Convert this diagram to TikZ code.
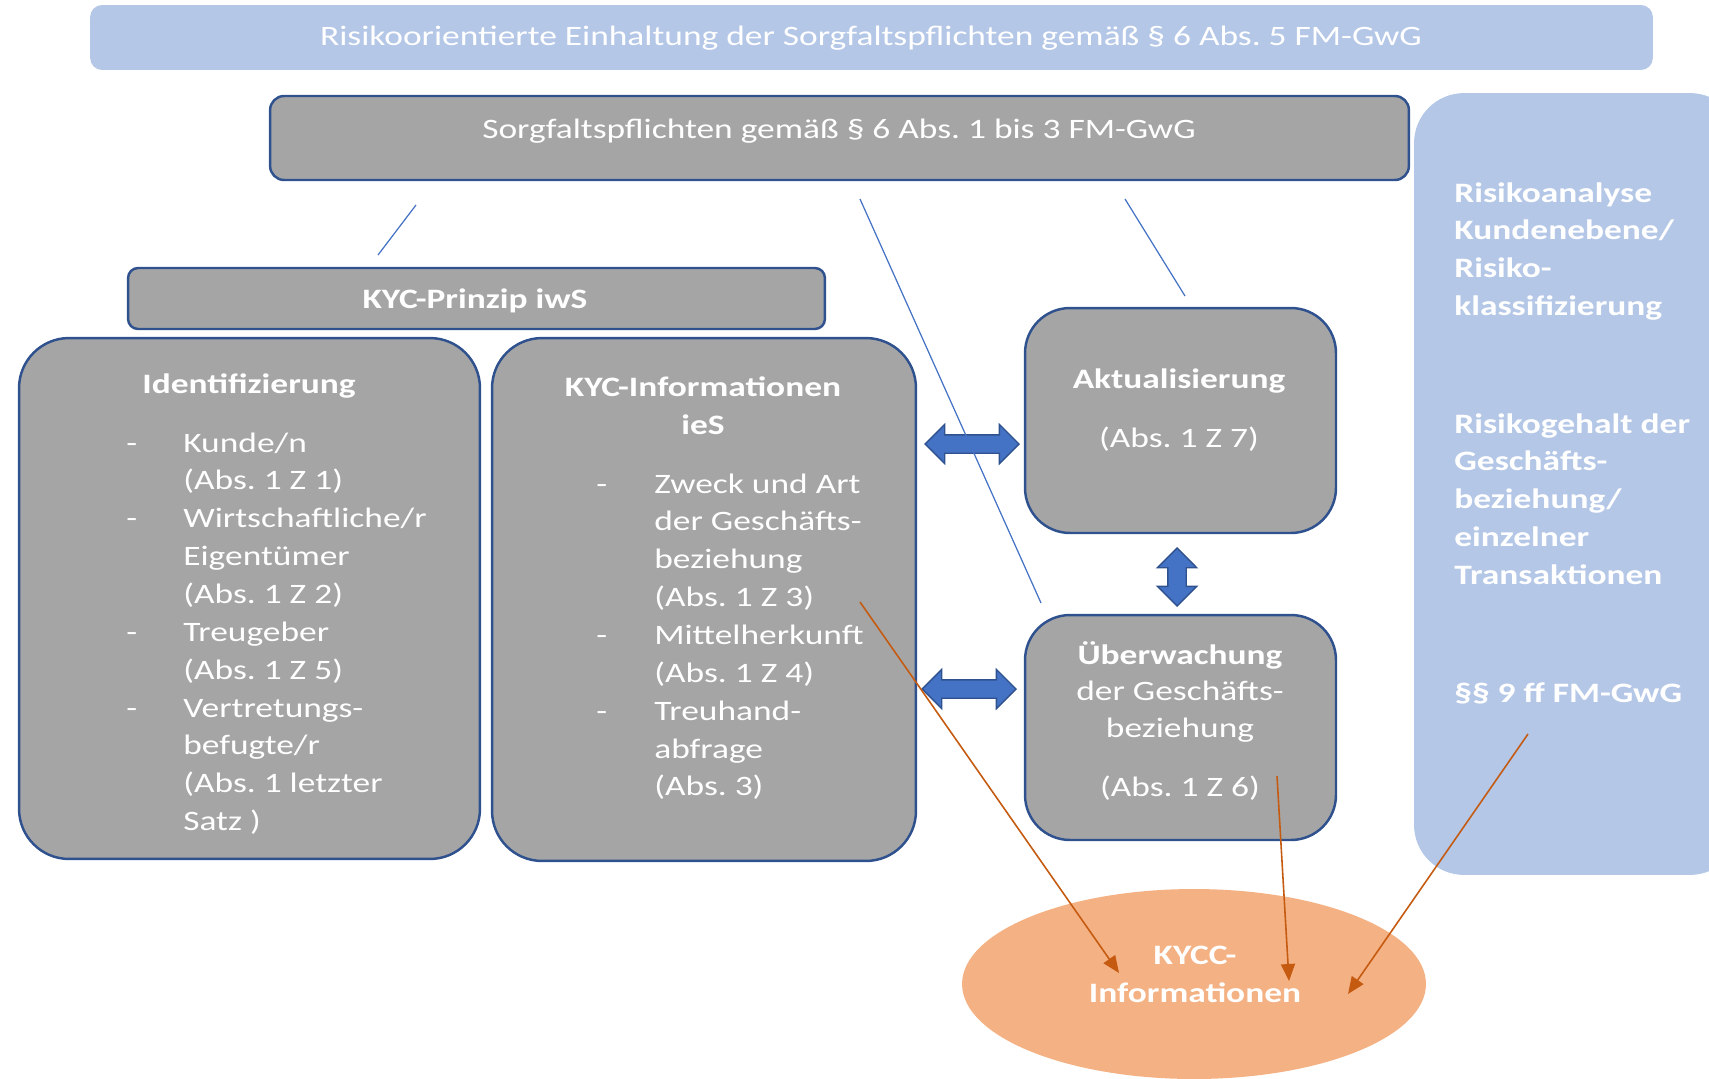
\documentclass[tikz,border=0pt]{standalone}
\usepackage{fontspec}
\setmainfont{Carlito}[FakeStretch=1.26]
\usepackage{xcolor}
\definecolor{bannerblue}{RGB}{180, 199, 231}
\definecolor{boxgrey}{RGB}{165, 165, 165}
\definecolor{boxedge}{RGB}{47, 82, 143}
\definecolor{arrowblue}{RGB}{68, 114, 196}
\definecolor{kyccorange}{RGB}{244, 177, 131}
\definecolor{linkorange}{RGB}{197, 90, 17}
\usetikzlibrary{
  arrows.meta,
  positioning,
  shapes.geometric,
  shapes.arrows
}
\frenchspacing

\begin{document}
\begin{tikzpicture}[x=0.02cm, y=-0.02cm,
  every node/.style={font=\fontsize{16}{21.55}\selectfont, text=white},
  bluepanel/.style={fill=bannerblue, inner sep=0, rounded corners=#1},
  greybox/.style={draw=boxedge, line width=1.4pt, fill=boxgrey, inner sep=0, rounded corners=#1},
  txt/.style={anchor=base, inner sep=0},
  headtxt/.style={anchor=base, inner sep=0, font=\fontsize{16}{21.55}\selectfont\bfseries},
  itemlist/.style={anchor=base west, inner sep=0},
  blockarrow/.style={shape=double arrow, draw=boxedge, line width=0.8pt, fill=arrowblue,
    inner xsep=0, inner ysep=0.17cm, double arrow head extend=0.21cm},
  thinlink/.style={draw=arrowblue, line width=0.7pt},
  kycclink/.style={draw=linkorange, line width=0.9pt, -{Triangle[length=0.34cm, width=0.28cm]}}
]
  \useasboundingbox (0,0) rectangle (1709,1078);

  % top banner
  \node[bluepanel=0.24cm, minimum width=31.26cm, minimum height=1.3cm] (banner) at (871.5,37.5) {};
  \node[txt] (bannertxt) at (871,46) {Risikoorientierte Einhaltung der Sorgfaltspflichten gemäß § 6 Abs. 5 FM-GwG};

  % right panel
  \node[bluepanel=1cm, minimum width=6.52cm, minimum height=15.64cm] (risk) at (1577,484) {};
  \node[itemlist, font=\fontsize{16}{21.55}\selectfont\bfseries] (risk1) at (1454,202) {\begin{tabular}[t]{@{}l@{}}
    Risikoanalyse\\ Kundenebene/\\ Risiko-\\ klassifizierung\end{tabular}};
  \node[itemlist, font=\fontsize{16}{21.55}\selectfont\bfseries] (risk2) at (1454,433) {\begin{tabular}[t]{@{}l@{}}
    Risikogehalt der\\ Geschäfts-\\ beziehung/\\ einzelner\\ Transaktionen\end{tabular}};
  \node[itemlist, font=\fontsize{16}{21.55}\selectfont\bfseries] (risk3) at (1454,702) {§§ 9 ff FM-GwG};

  % Sorgfaltspflichten
  \node[greybox=0.28cm, minimum width=22.78cm, minimum height=1.68cm] (sorgfalt) at (839.5,138) {};
  \node[txt] (sorgfalttxt) at (839,138) {Sorgfaltspflichten gemäß § 6 Abs. 1 bis 3 FM-GwG};

  % KYC principle
  \node[greybox=0.2cm, minimum width=13.94cm, minimum height=1.22cm] (kyc) at (476.5,298.5) {};
  \node[headtxt] (kyctxt) at (475,308) {KYC-Prinzip iwS};

  \node[greybox=1cm, minimum width=9.22cm, minimum height=10.42cm] (ident) at (249.5,598.5) {};
  \node[headtxt] (identtxt) at (249,393) {Identifizierung};
  \node[itemlist] (identlist) at (126,452) {\begin{tabular}[t]{@{}p{1.14cm}@{}l@{}}
    - & Kunde/n\\
      & (Abs. 1 Z 1)\\
    - & Wirtschaftliche/r\\
      & Eigentümer\\
      & (Abs. 1 Z 2)\\
    - & Treugeber\\
      & (Abs. 1 Z 5)\\
    - & Vertretungs-\\
      & befugte/r\\
      & (Abs. 1 letzter\\
      & Satz )
  \end{tabular}};

  \node[greybox=1cm, minimum width=8.48cm, minimum height=10.46cm] (kycinfo) at (704,599.5) {};
  \node[headtxt] (kycinfotxt) at (703,396) {KYC-Informationen};
  \node[headtxt] (kycinfoies) at (703,434) {ieS};
  \node[itemlist] (kycinfolist) at (596,493) {\begin{tabular}[t]{@{}p{1.16cm}@{}l@{}}
    - & Zweck und Art\\
      & der Geschäfts-\\
      & beziehung\\
      & (Abs. 1 Z 3)\\
    - & Mittelherkunft\\
      & (Abs. 1 Z 4)\\
    - & Treuhand-\\
      & abfrage\\
      & (Abs. 3)
  \end{tabular}};

  % update and monitoring
  \node[greybox=0.9cm, minimum width=6.22cm, minimum height=4.5cm] (aktual) at (1180.5,420.5) {};
  \node[headtxt] (aktualtxt) at (1179,388) {Aktualisierung};
  \node[txt] (aktualabs) at (1179,447) {(Abs. 1 Z 7)};

  \node[greybox=0.9cm, minimum width=6.22cm, minimum height=4.5cm] (ueberw) at (1180.5,727.5) {};
  \node[headtxt] (ueberwtxt) at (1180,664) {Überwachung};
  \node[txt] (ueberwder) at (1180,700) {der Geschäfts-};
  \node[txt] (ueberwbez) at (1180,737) {beziehung};
  \node[txt] (ueberwabs) at (1180,796) {(Abs. 1 Z 6)};

  % KYCC
  \node[ellipse, fill=kyccorange, inner sep=0, minimum width=9.28cm, minimum height=3.8cm] (kycc) at (1194,984) {};
  \node[headtxt] (kycctxt1) at (1195,964) {KYCC-};
  \node[headtxt] (kycctxt2) at (1195,1002) {Informationen};

  % block arrows
  \node[blockarrow, minimum height=1.88cm] (arrtop) at (972,444) {};
  \node[blockarrow, minimum height=1.88cm] (arrbot) at (969,689) {};
  \node[blockarrow, minimum height=1.16cm, rotate=90] (arrmid) at (1177,577) {};

  % thin links
  \coordinate (l1a) at (416,205);
  \coordinate (l1b) at (378,255);
  \coordinate (l2a) at (860,199);
  \coordinate (l2b) at (1041,603);
  \coordinate (l3a) at (1125,199);
  \coordinate (l3b) at (1185,296);
  \draw[thinlink] (l1a) -- (l1b);
  \draw[thinlink] (l2a) -- (l2b);
  \draw[thinlink] (l3a) -- (l3b);

  % links into KYCC
  \coordinate (k1a) at (860,602);
  \coordinate (k1b) at (1119,973);
  \coordinate (k2a) at (1277,776);
  \coordinate (k2b) at (1289,981);
  \coordinate (k3a) at (1528,734);
  \coordinate (k3b) at (1348,994);
  \draw[kycclink] (k1a) -- (k1b);
  \draw[kycclink] (k2a) -- (k2b);
  \draw[kycclink] (k3a) -- (k3b);

\end{tikzpicture}
\end{document}
